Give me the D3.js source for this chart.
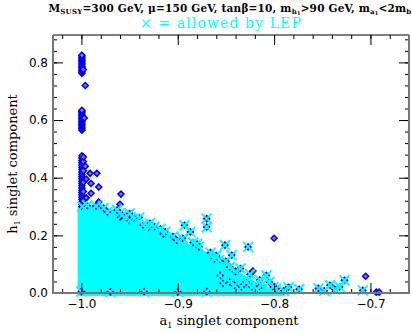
<!DOCTYPE html>
<html>
<head>
<meta charset="utf-8">
<script src="https://cdn.jsdelivr.net/npm/d3@7"></script>
<style>
  body { margin: 0; background: #fff; }
  svg { display: block; }
</style>
</head>
<body>
<div id="chart"></div>
<script>
// Data (a1 singlet component, h1 singlet component)
const xTicks = [-1.0, -0.9, -0.8, -0.7];
const yTicks = [0.0, 0.2, 0.4, 0.6, 0.8];

// points excluded by LEP (blue diamonds only)
const excluded = [
  [-0.9995, 0.762], [-0.9995, 0.767], [-0.9995, 0.772], [-0.9995, 0.777], [-0.9995, 0.782],
  [-0.9995, 0.787], [-0.9995, 0.792], [-0.9995, 0.797], [-0.9995, 0.802], [-0.9995, 0.807],
  [-0.9995, 0.812], [-0.9995, 0.817], [-0.9995, 0.822], [-0.9995, 0.825], [-0.998, 0.775],
  [-0.996, 0.720],
  [-0.9995, 0.565], [-0.9995, 0.570], [-0.9995, 0.575], [-0.9995, 0.580], [-0.9995, 0.585],
  [-0.9995, 0.590], [-0.9995, 0.595], [-0.9995, 0.600], [-0.9995, 0.605], [-0.9995, 0.610],
  [-0.9995, 0.615], [-0.9995, 0.620], [-0.9995, 0.625], [-0.9995, 0.630], [-0.9995, 0.634],
  [-0.997, 0.607],
  [-0.9995, 0.300], [-0.9995, 0.308], [-0.9995, 0.316], [-0.9995, 0.324], [-0.9995, 0.332],
  [-0.9995, 0.340], [-0.9995, 0.348], [-0.9995, 0.356], [-0.9995, 0.364], [-0.9995, 0.372],
  [-0.9995, 0.380], [-0.9995, 0.388], [-0.9995, 0.396], [-0.9995, 0.404], [-0.9995, 0.412],
  [-0.9995, 0.420], [-0.9995, 0.428], [-0.9995, 0.436], [-0.9995, 0.444], [-0.9995, 0.452],
  [-0.9995, 0.460], [-0.9995, 0.468], [-0.9995, 0.476],
  [-0.998, 0.304], [-0.998, 0.320], [-0.998, 0.352], [-0.998, 0.384], [-0.998, 0.424],
  [-0.998, 0.456], [-0.998, 0.472],
  [-0.996, 0.440], [-0.995, 0.330], [-0.995, 0.395],
  [-0.991, 0.415], [-0.984, 0.415], [-0.982, 0.368], [-0.990, 0.380], [-0.990, 0.346],
  [-0.982, 0.316], [-0.959, 0.343], [-0.960, 0.308], [-0.960, 0.264],
  [-0.800, 0.190], [-0.822, 0.076], [-0.705, 0.058], [-0.694, 0.003], [-0.691, 0.003]
];

// points allowed by LEP (blue diamond + cyan cross)
const allowed = [
  [-0.999, 0.300], [-0.994, 0.303], [-0.985, 0.302], [-0.977, 0.295], [-0.973, 0.281],
  [-0.963, 0.288], [-0.960, 0.278], [-0.958, 0.270], [-0.950, 0.276], [-0.950, 0.252],
  [-0.945, 0.258], [-0.940, 0.262], [-0.936, 0.236], [-0.930, 0.228], [-0.929, 0.242],
  [-0.924, 0.230], [-0.918, 0.222], [-0.915, 0.205], [-0.913, 0.212], [-0.905, 0.196],
  [-0.901, 0.183], [-0.895, 0.190], [-0.893, 0.235], [-0.887, 0.212], [-0.884, 0.175],
  [-0.880, 0.170], [-0.878, 0.160], [-0.870, 0.258], [-0.870, 0.229], [-0.866, 0.140],
  [-0.862, 0.118], [-0.860, 0.130], [-0.857, 0.114], [-0.851, 0.166], [-0.850, 0.110],
  [-0.844, 0.131], [-0.846, 0.090], [-0.840, 0.075], [-0.835, 0.085], [-0.827, 0.160],
  [-0.825, 0.065], [-0.815, 0.045], [-0.856, 0.061], [-0.853, 0.034], [-0.846, 0.038],
  [-0.841, 0.027], [-0.834, 0.021], [-0.829, 0.038], [-0.823, 0.021], [-0.818, 0.015],
  [-0.813, 0.027], [-0.808, 0.061], [-0.805, 0.038], [-0.801, 0.021], [-0.798, 0.015],
  [-0.790, 0.008], [-0.785, 0.020], [-0.774, 0.013], [-0.754, 0.016], [-0.748, 0.008],
  [-0.742, 0.027], [-0.737, 0.013], [-0.732, 0.021], [-0.727, 0.044], [-0.708, 0.009],
  [-1.000, 0.005], [-0.970, 0.004], [-0.935, 0.005], [-0.900, 0.004], [-0.870, 0.005]
];

// outline of the dense allowed cloud (top edge)
const denseA1 = [-1.004, -0.997, -0.981, -0.968, -0.955, -0.939, -0.924, -0.908, -0.893, -0.874, -0.849, -0.836, -0.820, -0.804, -0.789];
const denseTop = [0.298, 0.308, 0.305, 0.290, 0.270, 0.245, 0.222, 0.207, 0.176, 0.148, 0.103, 0.072, 0.041, 0.016, 0.000];

// Dimensions
const WIDTH = 412;
const HEIGHT = 332;
const MARGIN = { TOP: 35, BOTTOM: 39, LEFT: 53, RIGHT: 3 };
const innerW = WIDTH - MARGIN.LEFT - MARGIN.RIGHT;
const innerH = HEIGHT - MARGIN.TOP - MARGIN.BOTTOM;

const BLUE = '#0000ee';
const CYAN = '#00ffff';
const SERIF = '"DejaVu Serif", "Liberation Serif", serif';
const SANS = '"DejaVu Sans", "Liberation Sans", sans-serif';

const svg = d3
  .select('#chart')
  .append('svg')
  .attr('width', WIDTH)
  .attr('height', HEIGHT);

const g = svg
  .append('g')
  .attr('transform', `translate(${MARGIN.LEFT}, ${MARGIN.TOP})`);

// Scales
const x = d3.scaleLinear().domain([-1.0295, -0.66]).range([0, innerW]);
const y = d3.scaleLinear().domain([0, 0.895]).range([innerH, 0]);

// Dense cloud
const denseData = denseA1.map((a, i) => [a, denseTop[i]]);
g.append('path')
  .datum(denseData)
  .attr('fill', CYAN)
  .attr('d', d3.area()
    .x((d) => x(d[0]))
    .y0(y(-0.01))
    .y1((d) => y(d[1])));

// Diamonds
const diamond = (r) => `M0,${-r}L${r},0L0,${r}L${-r},0Z`;
g.selectAll('path.dia')
  .data(excluded.concat(allowed))
  .enter()
  .append('path')
  .attr('class', 'dia')
  .attr('transform', (d) => `translate(${x(d[0])},${y(d[1])})`)
  .attr('d', diamond(3))
  .attr('fill', '#7a7aff')
  .attr('stroke', BLUE)
  .attr('stroke-width', 1.5);

// Crosses
const cross = (r) => `M${-r},${-r}L${r},${r}M${-r},${r}L${r},${-r}`;
g.selectAll('path.x')
  .data(allowed)
  .enter()
  .append('path')
  .attr('class', 'x')
  .attr('transform', (d) => `translate(${x(d[0])},${y(d[1])})`)
  .attr('d', cross(5))
  .attr('fill', 'none')
  .attr('stroke', CYAN)
  .attr('stroke-width', 2);

// Axes (ticks inward, mirrored)
const xMinor = d3.range(-1.02, -0.659, 0.02);
const yMinor = d3.range(0, 0.881, 0.04);
const fmt = d3.format('.1f');

function styleAxis(sel) {
  sel.select('.domain').remove();
  sel.selectAll('line').attr('stroke', '#000');
  sel.selectAll('text')
    .attr('font-family', SANS)
    .attr('font-size', 12)
    .attr('fill', '#000');
}

g.append('g').attr('transform', `translate(0,${innerH})`)
  .call(d3.axisBottom(x).tickValues(xMinor).tickSize(-4).tickFormat(''))
  .call(styleAxis);
g.append('g').attr('transform', `translate(0,${innerH})`)
  .call(d3.axisBottom(x).tickValues(xTicks).tickSize(-10).tickPadding(6).tickFormat(fmt))
  .call(styleAxis);
g.append('g')
  .call(d3.axisTop(x).tickValues(xMinor).tickSize(-4).tickFormat(''))
  .call(styleAxis);
g.append('g')
  .call(d3.axisTop(x).tickValues(xTicks).tickSize(-10).tickFormat(''))
  .call(styleAxis);

g.append('g')
  .call(d3.axisLeft(y).tickValues(yMinor).tickSize(-4).tickFormat(''))
  .call(styleAxis);
g.append('g')
  .call(d3.axisLeft(y).tickValues(yTicks).tickSize(-10).tickPadding(5).tickFormat(fmt))
  .call(styleAxis);
g.append('g').attr('transform', `translate(${innerW},0)`)
  .call(d3.axisRight(y).tickValues(yMinor).tickSize(-4).tickFormat(''))
  .call(styleAxis);
g.append('g').attr('transform', `translate(${innerW},0)`)
  .call(d3.axisRight(y).tickValues(yTicks).tickSize(-10).tickFormat(''))
  .call(styleAxis);

// Frame
g.append('line').attr('x1', 0).attr('x2', innerW).attr('y1', 0).attr('y2', 0)
  .attr('stroke', '#000').attr('stroke-width', 1);
g.append('path')
  .attr('d', `M0,0V${innerH}H${innerW}V0`)
  .attr('fill', 'none')
  .attr('stroke', '#777')
  .attr('stroke-width', 2);

// Axis titles
const xt = svg.append('text')
  .attr('x', MARGIN.LEFT + innerW / 2 - 2)
  .attr('y', 325)
  .attr('text-anchor', 'middle')
  .attr('font-family', SERIF)
  .attr('font-size', 13);
xt.append('tspan').text('a');
xt.append('tspan').attr('font-size', 8).attr('dy', 3).text('1');
xt.append('tspan').attr('dy', -3).text(' singlet component');

const yt = svg.append('text')
  .attr('transform', `translate(17,${MARGIN.TOP + innerH / 2}) rotate(-90)`)
  .attr('text-anchor', 'middle')
  .attr('font-family', SERIF)
  .attr('font-size', 13);
yt.append('tspan').text('h');
yt.append('tspan').attr('font-size', 8).attr('dy', 3).text('1');
yt.append('tspan').attr('dy', -3).text(' singlet component');

// Title
const title = svg.append('text')
  .attr('x', 230)
  .attr('y', 12)
  .attr('text-anchor', 'middle')
  .attr('font-family', SERIF)
  .attr('font-weight', 'bold')
  .attr('letter-spacing', 0.2)
  .attr('font-size', 10.5);
title.append('tspan').text('M');
title.append('tspan').attr('font-size', 7).attr('dy', 2).text('SUSY');
title.append('tspan').attr('dy', -2).text('=300 GeV, μ=150 GeV, tanβ=10, m');
title.append('tspan').attr('font-size', 7).attr('dy', 2).text('h');
title.append('tspan').attr('font-size', 5).attr('dy', 1).text('1');
title.append('tspan').attr('dy', -3).text('>90 GeV, m');
title.append('tspan').attr('font-size', 7).attr('dy', 2).text('a');
title.append('tspan').attr('font-size', 5).attr('dy', 1).text('1');
title.append('tspan').attr('dy', -3).text('<2m');
title.append('tspan').attr('font-size', 7).attr('dy', 2).text('b');

svg.append('text')
  .attr('x', 221)
  .attr('y', 28)
  .attr('text-anchor', 'middle')
  .attr('font-family', SERIF)
  .attr('font-size', 14)
  .attr('letter-spacing', 1.1)
  .attr('fill', CYAN)
  .text('× = allowed by LEP');
</script>
</body>
</html>
